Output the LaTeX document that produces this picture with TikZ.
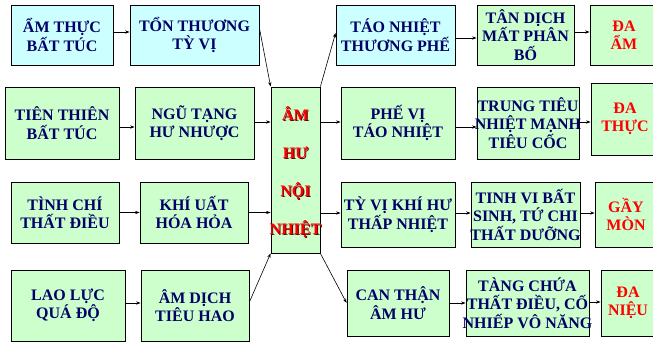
\documentclass[tikz,border=0pt]{standalone}
\usepackage{fontspec}
\setmainfont{Liberation Serif}
\usetikzlibrary{arrows.meta,calc,shadows}
\definecolor{navy}{RGB}{0,0,102}
\definecolor{cyanbox}{RGB}{204,255,255}
\definecolor{greenbox}{RGB}{204,255,204}
\definecolor{redtxt}{RGB}{255,0,0}
\definecolor{redshadow}{RGB}{90,0,0}
\newcommand\zl[1]{\makebox[0pt][c]{#1}}
\begin{document}
\begin{tikzpicture}[x=1pt,y=-1pt,
 box/.style={draw=black, line width=0.8pt, inner sep=0pt, align=center,
   font=\fontsize{16}{18.5}\selectfont\bfseries, text=navy,
   drop shadow={shadow xshift=1.2pt, shadow yshift=-1.2pt, fill=black!45, opacity=1}},
 cbox/.style={box, fill=cyanbox},
 gbox/.style={box, fill=greenbox},
 rbox/.style={gbox, text=redtxt},
 ctext/.style={inner sep=0pt, align=center, font=\fontsize{16}{38}\selectfont\bfseries},
 arr/.style={-{Stealth[length=4.5pt,width=3.2pt]}, line width=0.6pt, draw=black}]
\path[use as bounding box, clip] (0,0) rectangle (653,342);
\fill[white] (0,0) rectangle (653,342);

% row 1
\node[cbox, minimum width=102pt, minimum height=60pt] (a11) at (62,35) {\zl{ẨM THỰC}\\\zl{BẤT TÚC}};
\node[cbox, minimum width=129pt, minimum height=60pt] (a12) at (194.5,35) {\zl{TỔN THƯƠNG}\\\zl{TỲ VỊ}};
\node[cbox, minimum width=119pt, minimum height=60pt] (b11) at (395.5,35) {\zl{TÁO NHIỆT}\\\zl{THƯƠNG PHẾ}};
\node[gbox, minimum width=97pt, minimum height=60pt] (b12) at (525.5,35) {\zl{TÂN DỊCH}\\\zl{MẤT PHÂN}\\\zl{BỐ}};
\node[rbox, minimum width=68pt, minimum height=60pt] (b13) at (624,35) {\zl{ĐA}\\\zl{ẨM}};

% row 2
\node[gbox, minimum width=114pt, minimum height=72pt] (a21) at (62,123) {\zl{TIÊN THIÊN}\\\zl{BẤT TÚC}};
\node[gbox, minimum width=119pt, minimum height=72pt] (a22) at (194.5,123) {\zl{NGŨ TẠNG}\\\zl{HƯ NHƯỢC}};
\node[gbox, minimum width=114pt, minimum height=72pt] (b21) at (398,123) {\zl{PHẾ VỊ}\\\zl{TÁO NHIỆT}};
\node[gbox, minimum width=102pt, minimum height=72pt] (b22) at (528,123) {\zl{TRUNG TIÊU}\\\zl{NHIỆT MẠNH}\\\zl{TIÊU CỐC}};
\node[rbox, minimum width=68pt, minimum height=72pt] (b23) at (625,119) {\zl{ĐA}\\\zl{THỰC}};

% row 3
\node[gbox, minimum width=108pt, minimum height=61pt] (a31) at (65,212.5) {\zl{TÌNH CHÍ}\\\zl{THẤT ĐIỀU}};
\node[gbox, minimum width=108pt, minimum height=61pt] (a32) at (194,212.5) {\zl{KHÍ UẤT}\\\zl{HÓA HỎA}};
\node[gbox, minimum width=114pt, minimum height=65pt] (b31) at (398,214.5) {\zl{TỲ VỊ KHÍ HƯ}\\\zl{THẤP NHIỆT}};
\node[gbox, minimum width=109pt, minimum height=65pt] (b32) at (525.5,214.5) {\zl{TINH VI BẤT}\\\zl{SINH, TỨ CHI}\\\zl{THẤT DƯỠNG}};
\node[rbox, minimum width=62pt, minimum height=65pt] (b33) at (626,214.5) {\zl{GẦY}\\\zl{MÒN}};

% row 4
\node[gbox, minimum width=114pt, minimum height=71pt] (a41) at (68,305.5) {\zl{LAO LỰC}\\\zl{QUÁ ĐỘ}};
\node[gbox, minimum width=108pt, minimum height=71pt] (a42) at (195,305.5) {\zl{ÂM DỊCH}\\\zl{TIÊU HAO}};
\node[gbox, minimum width=102pt, minimum height=66pt] (b41) at (398,303) {\zl{CAN THẬN}\\\zl{ÂM HƯ}};
\node[gbox, minimum width=123pt, minimum height=66pt] (b42) at (527.5,303) {\zl{TÀNG CHỨA}\\\zl{THẤT ĐIỀU, CỐ}\\\zl{NHIẾP VÔ NĂNG}};
\node[rbox, minimum width=54pt, minimum height=66pt] (b43) at (628,303) {\zl{ĐA}\\\zl{NIỆU}};

% center
\node[gbox, minimum width=49pt, minimum height=166pt] (c) at (295.5,170) {};
\node[ctext, text=redshadow] (cts) at (296.5,173.5) {\zl{ÂM}\\\zl{HƯ}\\\zl{NỘI}\\\zl{NHIỆT}};
\node[ctext, text=redtxt] (ct) at (295.5,172.5) {\zl{ÂM}\\\zl{HƯ}\\\zl{NỘI}\\\zl{NHIỆT}};

% arrows row 1
\draw[arr] ([yshift=3pt]a11.east) -- ([yshift=3pt]a11.east -| a12.west);
\draw[arr] ([yshift=7pt]a12.east) -- (c.north west);
\draw[arr] (c.north east) -- ([yshift=2pt]b11.west);
\draw[arr] ([yshift=-3pt]b11.east) -- ([yshift=-3pt]b11.east -| b12.west);
\draw[arr] ([yshift=3pt]b12.east) -- ([yshift=3pt]b12.east -| b13.west);

% arrows row 2
\draw[arr] ([yshift=-4pt]a21.east) -- ([yshift=-4pt]a21.east -| a22.west);
\draw[arr] ([yshift=1pt]a22.east) -- ([yshift=1pt]a22.east -| c.west);
\draw[arr] ([yshift=1pt]b21.west -| c.east) -- ([yshift=1pt]b21.west);
\draw[arr] ([yshift=-4pt]b21.east) -- ([yshift=-4pt]b21.east -| b22.west);
\draw[arr] ([yshift=1pt]b22.east) -- ([yshift=1pt]b22.east -| b23.west);

% arrows row 3
\draw[arr] (a31.east) -- (a31.east -| a32.west);
\draw[arr] (a32.east) -- (a32.east -| c.west);
\draw[arr] ([yshift=1.5pt]b31.west -| c.east) -- ([yshift=1.5pt]b31.west);
\draw[arr] ([yshift=1.5pt]b31.east) -- ([yshift=1.5pt]b31.east -| b32.west);
\draw[arr] ([yshift=1.5pt]b32.east) -- ([yshift=1.5pt]b32.east -| b33.west);

% arrows row 4
\draw[arr] ([yshift=2.5pt]a41.east) -- ([yshift=2.5pt]a41.east -| a42.west);
\draw[arr] ([yshift=3.5pt]a42.east) -- (c.south west);
\draw[arr] (c.south east) -- (b41.west);
\draw[arr] (b41.east) -- (b41.east -| b42.west);
\draw[arr] ([yshift=1pt]b42.east) -- ([yshift=1pt]b42.east -| b43.west);
\end{tikzpicture}
\end{document}
